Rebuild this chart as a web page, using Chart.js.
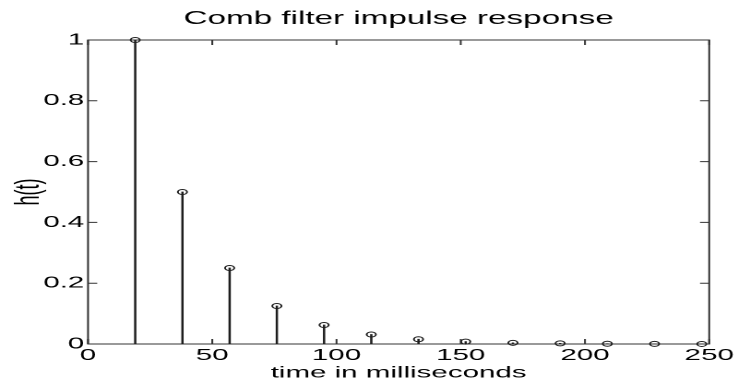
<!DOCTYPE html>
<html>
<head>
<meta charset="utf-8">
<script src="https://cdn.jsdelivr.net/npm/chart.js@4.4.1/dist/chart.umd.min.js"></script>
<style>
  html, body { margin: 0; padding: 0; background: #fff; overflow: hidden; }
  /* the reference is stretched sideways, so draw narrow and widen */
  #wrap { width: 400px; height: 388px; transform: scaleX(1.845); transform-origin: 0 0; }
</style>
</head>
<body>
<div id="wrap"><canvas id="myChart" width="400" height="388"></canvas></div>
<script>
// impulse times (ms) and amplitudes of the comb filter
const times = [19, 38, 57, 76, 95, 114, 133, 152, 171, 190, 209, 228, 247];
const amps = [1, 0.5, 0.25, 0.125, 0.0625, 0.03125, 0.0156, 0.0078, 0.0039, 0.002, 0.001, 0.0005, 0.0002];
const xTicks = [0, 50, 100, 150, 200, 250];
const yTicks = [0, 0.2, 0.4, 0.6, 0.8, 1];
const yTickLabels = ['0', '0.2', '0.4', '0.6', '0.8', '1'];

const ink = '#1e1e1e';
const font = { family: "'Liberation Sans', Arial, sans-serif", size: 16, weight: 'normal' };
const bigFont = { family: "'Liberation Sans', Arial, sans-serif", size: 18, weight: 'normal' };

const points = times.map((t, i) => ({ x: t, y: amps[i] }));

// box round the plot and small ticks pointing inwards (matlab style)
const boxTicks = {
  id: 'boxTicks',
  afterLayout(chart) {
    // center the title over the plot area, not the whole canvas
    if (chart.titleBlock) {
      chart.titleBlock.left = chart.chartArea.left;
      chart.titleBlock.right = chart.chartArea.right;
    }
  },
  beforeDatasetsDraw(chart) {
    const { ctx, chartArea: a, scales } = chart;
    ctx.save();
    ctx.strokeStyle = '#333';
    ctx.lineWidth = 1;
    ctx.strokeRect(a.left, a.top, a.right - a.left, a.bottom - a.top);
    ctx.beginPath();
    scales.x.ticks.forEach(t => {
      const px = scales.x.getPixelForValue(t.value);
      ctx.moveTo(px, a.bottom); ctx.lineTo(px, a.bottom - 5);
      ctx.moveTo(px, a.top); ctx.lineTo(px, a.top + 5);
    });
    scales.y.ticks.forEach(t => {
      const py = scales.y.getPixelForValue(t.value);
      ctx.moveTo(a.left, py); ctx.lineTo(a.left + 5, py);
      ctx.moveTo(a.right, py); ctx.lineTo(a.right - 5, py);
    });
    ctx.stroke();
    ctx.restore();
  }
};

const config = {
  type: 'scatter',
  data: {
    datasets: [
      {
        label: 'h(t)',
        data: points,
        clip: false,
        pointStyle: 'circle',
        pointRadius: 2.5,
        pointBorderWidth: 1,
        pointBorderColor: ink,
        pointBackgroundColor: 'rgba(255,255,255,0)',
        order: 0
      },
      {
        type: 'bar',
        label: 'stem',
        data: points,
        backgroundColor: ink,
        borderWidth: 0,
        barThickness: 0.6,
        order: 1
      }
    ]
  },
  options: {
    responsive: false,
    animation: false,
    devicePixelRatio: 2,
    layout: { padding: { left: 0, right: 15.6, top: 0, bottom: 0 } },
    plugins: {
      legend: { display: false },
      tooltip: { enabled: false },
      title: {
        display: true,
        text: 'Comb filter impulse response',
        color: '#000',
        font: bigFont,
        padding: { top: 8, bottom: 10.4 }
      }
    },
    scales: {
      x: {
        type: 'linear',
        min: 0,
        max: 250,
        offset: false,
        afterBuildTicks: s => { s.ticks = xTicks.map(v => ({ value: v })); },
        afterFit: s => { s.height = 44; },
        grid: { display: false, drawTicks: false },
        border: { display: false },
        ticks: { color: '#000', font: font, padding: 2, maxRotation: 0 },
        title: {
          display: true,
          text: 'time in milliseconds',
          color: '#000',
          font: font,
          padding: { top: 0, bottom: 5.4 }
        }
      },
      y: {
        type: 'linear',
        min: 0,
        max: 1,
        afterBuildTicks: s => { s.ticks = yTicks.map(v => ({ value: v })); },
        afterFit: s => { s.width = 47.7; },
        grid: { display: false, drawTicks: false },
        border: { display: false },
        ticks: {
          color: '#000',
          font: font,
          padding: 2,
          callback: (v, i) => yTickLabels[i]
        },
        title: {
          display: true,
          text: 'h(t)',
          color: '#000',
          font: bigFont,
          padding: { top: 5, bottom: 0 }
        }
      }
    }
  },
  plugins: [boxTicks]
};

var myChart = new Chart(
  document.getElementById('myChart'),
  config
);
</script>
</body>
</html>
